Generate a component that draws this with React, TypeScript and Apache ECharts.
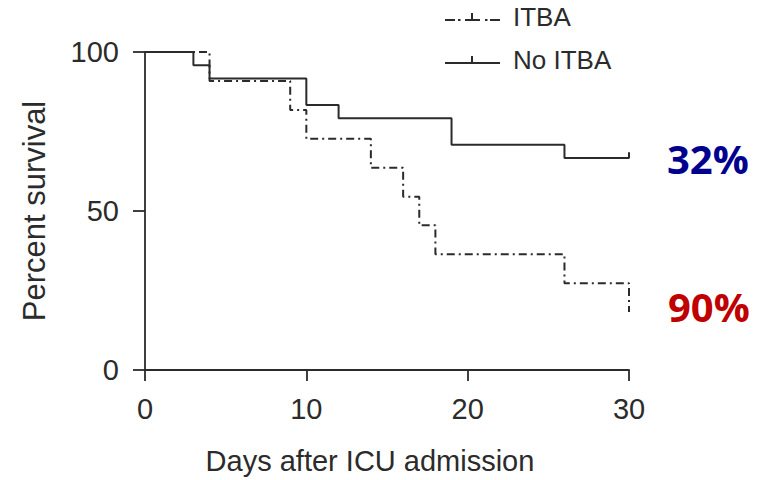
import React, { useEffect, useRef } from "react";
import * as echarts from "echarts";

// Kaplan-Meier step data (day, percent survival)
const itbaDays = [0, 4, 9, 10, 14, 16, 17, 18, 26, 30, 30];
const itbaSurvival = [100, 90.9, 81.8, 72.7, 63.6, 54.5, 45.5, 36.4, 27.3, 27.3, 18.2];
const noItbaDays = [0, 3, 4, 10, 12, 19, 26, 30, 30];
const noItbaSurvival = [100, 95.8, 91.7, 83.3, 79.2, 70.8, 66.7, 66.7, 68.5];

const seriesNames = ["ITBA", "No ITBA"];
const xAxisName = "Days after ICU admission";
const yAxisName = "Percent survival";
const xRange = [0, 30, 10];
const yRange = [0, 100, 50];
const mortalityLabels = ["32%", "90%"];

const INK = "#2b2b2b";

export default function App() {
  const ref = useRef<HTMLDivElement>(null);

  useEffect(() => {
    if (!ref.current) return;
    const chart = echarts.init(ref.current, null, { renderer: "svg" });

    const itbaData = itbaDays.map((d, i) => [d, itbaSurvival[i]]);
    const noItbaData = noItbaDays.map((d, i) => [d, noItbaSurvival[i]]);

    const axisFont = "Liberation Sans";

    chart.setOption({
      animation: false,
      backgroundColor: "#ffffff",
      grid: { left: 145, width: 484, top: 52, height: 325, containLabel: false },
      legend: {
        orient: "vertical",
        left: 445,
        top: 4,
        padding: 0,
        itemGap: 17,
        itemWidth: 55,
        itemHeight: 8,
        symbolKeepAspect: false,
        itemStyle: { borderWidth: 0 },
        textStyle: {
          fontFamily: axisFont,
          fontSize: 26,
          color: INK,
          padding: [0, 0, 0, 8],
        },
        data: [
          {
            name: seriesNames[0],
            icon:
              "path://M0,6h10v2h-10z M13,6h2.5v2h-2.5z M20,6h15v2h-15z M26,0h2v6h-2z M40,6h2.5v2h-2.5z M45,6h10v2h-10z",
          },
          {
            name: seriesNames[1],
            icon: "path://M0,6h55v2h-55z M26,0h2v6h-2z",
          },
        ],
      },
      xAxis: {
        type: "value",
        min: xRange[0],
        max: xRange[1],
        interval: xRange[2],
        name: xAxisName,
        nameLocation: "middle",
        nameGap: 76,
        nameTextStyle: {
          fontFamily: axisFont,
          fontSize: 29,
          color: INK,
          padding: [0, 34, 0, 0],
        },
        axisLine: { show: true, lineStyle: { color: INK, width: 1.8 } },
        axisTick: { show: true, length: 11, lineStyle: { color: INK, width: 1.8 } },
        axisLabel: { fontFamily: axisFont, fontSize: 29, color: INK, margin: 24 },
        splitLine: { show: false },
      },
      yAxis: {
        type: "value",
        min: yRange[0],
        max: yRange[1],
        interval: yRange[2],
        name: yAxisName,
        nameLocation: "middle",
        nameGap: 95,
        nameTextStyle: { fontFamily: axisFont, fontSize: 31, color: INK },
        axisLine: { show: true, lineStyle: { color: INK, width: 1.8 } },
        axisTick: { show: true, length: 12, lineStyle: { color: INK, width: 1.8 } },
        axisLabel: { fontFamily: axisFont, fontSize: 29, color: INK, margin: 26 },
        splitLine: { show: false },
      },
      series: [
        {
          name: seriesNames[0],
          type: "line",
          step: "end",
          data: itbaData,
          symbol: "none",
          color: INK,
          lineStyle: { color: INK, width: 2, type: [8, 4, 2, 4] },
        },
        {
          name: seriesNames[1],
          type: "line",
          step: "end",
          data: noItbaData,
          symbol: "none",
          color: INK,
          lineStyle: { color: INK, width: 2, type: "solid" },
        },
      ],
      graphic: [
        {
          type: "text",
          x: 667,
          y: 158,
          style: {
            text: mortalityLabels[0],
            fontFamily: "Open Sans",
            fontWeight: "bold",
            fontSize: 40,
            fill: "#00008f",
            align: "left",
            verticalAlign: "middle",
          },
        },
        {
          type: "text",
          x: 668,
          y: 306,
          style: {
            text: mortalityLabels[1],
            fontFamily: "Open Sans",
            fontWeight: "bold",
            fontSize: 40,
            fill: "#c00000",
            align: "left",
            verticalAlign: "middle",
          },
        },
      ],
    });

    return () => chart.dispose();
  }, []);

  return <div ref={ref} style={{ width: 775, height: 480, position: "absolute", left: 0, top: 0 }} />;
}
